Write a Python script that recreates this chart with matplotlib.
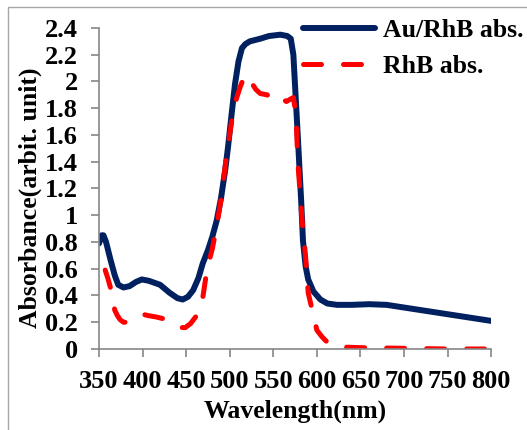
import matplotlib
matplotlib.use("Agg")
import matplotlib.pyplot as plt
from matplotlib.patches import Rectangle
from matplotlib.ticker import FuncFormatter

plt.rcParams['font.family'] = ['Liberation Serif', 'DejaVu Serif']
plt.rcParams['font.weight'] = 'bold'

# Au/RhB absorbance
wl_au = [350, 353, 355, 358, 363, 368, 372, 378, 385, 392, 399, 407, 420, 431,
         440, 446, 452, 458, 464, 469, 475, 480, 485, 490, 495, 498, 502, 506,
         510, 514, 518, 523, 535, 545, 558, 566, 570, 573, 575, 578, 580, 582,
         584, 587, 590, 596, 604, 612, 623, 640, 660, 680, 700, 720, 750, 775, 800]
abs_au = [0.79, 0.85, 0.85, 0.80, 0.67, 0.55, 0.48, 0.46, 0.47, 0.50, 0.52, 0.51,
          0.48, 0.42, 0.38, 0.37, 0.39, 0.44, 0.53, 0.64, 0.74, 0.84, 0.96, 1.13,
          1.35, 1.51, 1.75, 1.98, 2.15, 2.25, 2.28, 2.30, 2.32, 2.34, 2.35, 2.34,
          2.32, 2.20, 1.96, 1.60, 1.35, 1.10, 0.81, 0.62, 0.52, 0.43, 0.37, 0.34,
          0.33, 0.33, 0.335, 0.33, 0.31, 0.29, 0.26, 0.235, 0.21]

# RhB absorbance
wl_rhb = [357, 360, 363, 366, 368, 371, 374, 378, 383, 390, 400, 406, 415, 428,
          438, 445, 449, 455, 462, 468, 474, 480, 485, 490, 495, 500, 504, 508,
          512, 515, 519, 523, 526, 530, 535, 543, 548, 552, 558, 565, 570, 573,
          576, 578, 583, 587, 590, 600, 606, 612, 620, 627, 650, 700, 750, 800]
abs_rhb = [0.59, 0.53, 0.46, 0.36, 0.29, 0.25, 0.22, 0.20, 0.20, 0.23, 0.26, 0.25,
           0.24, 0.22, 0.19, 0.16, 0.16, 0.19, 0.25, 0.34, 0.60, 0.75, 0.92, 1.12,
           1.38, 1.61, 1.78, 1.88, 1.96, 2.01, 1.96, 1.94, 1.98, 1.94, 1.91, 1.90,
           1.86, 1.86, 1.88, 1.85, 1.87, 1.88, 1.75, 1.41, 0.96, 0.69, 0.42, 0.14,
           0.09, 0.05, 0.02, 0.015, 0.01, 0.005, 0.0, 0.0]

x_ticks = list(range(350, 801, 50))
y_ticks = [i * 0.2 for i in range(13)]

fig = plt.figure(figsize=(5.27, 4.30), dpi=100)
ax = fig.add_axes([0.188, 0.1884, 0.744, 0.7465])

ax.plot(wl_au, abs_au, color='#002060', lw=4.3, solid_joinstyle='round',
        solid_capstyle='round', label='Au/RhB abs.')
ax.plot(wl_rhb, abs_rhb, color='#FF0000', lw=3.6, linestyle=(0, (3.6, 4.4)),
        dash_capstyle='round', dash_joinstyle='round', label='RhB abs.')

ax.set_xlim(350, 800)
ax.set_ylim(0, 2.4)
ax.set_xticks(x_ticks)
ax.set_yticks(y_ticks)
ax.yaxis.set_major_formatter(FuncFormatter(lambda v, p: f"{round(v, 1):g}"))

for s in ['top', 'right']:
    ax.spines[s].set_visible(False)
for s in ['left', 'bottom']:
    ax.spines[s].set_color('#868686')
    ax.spines[s].set_linewidth(1.2)
ax.tick_params(axis='both', direction='out', length=5.5, width=1.2,
               color='#868686', labelsize=19, pad=9.5)

ax.set_xlabel('Wavelength(nm)', fontsize=18.5, fontweight='bold', va='center')
ax.xaxis.set_label_coords(0.5, -0.193)
ax.set_ylabel('Absorbance(arbit. unit)', fontsize=18.5, fontweight='bold', va='center')
ax.yaxis.set_label_coords(-0.176, 0.47)

ax.legend(loc='upper left', bbox_to_anchor=(303 / 527, 1 - 19 / 430),
          bbox_transform=fig.transFigure, frameon=False, fontsize=18.5,
          borderpad=0, borderaxespad=0, handlelength=2.8, handletextpad=0.3,
          labelspacing=0.5)

fig.add_artist(Rectangle((8 / 527, -0.1), 1.2, (1 - 7 / 430) + 0.1,
                         transform=fig.transFigure, fill=False,
                         edgecolor='#A6A6A6', lw=1.0))

fig.savefig('out.png', dpi=100)
